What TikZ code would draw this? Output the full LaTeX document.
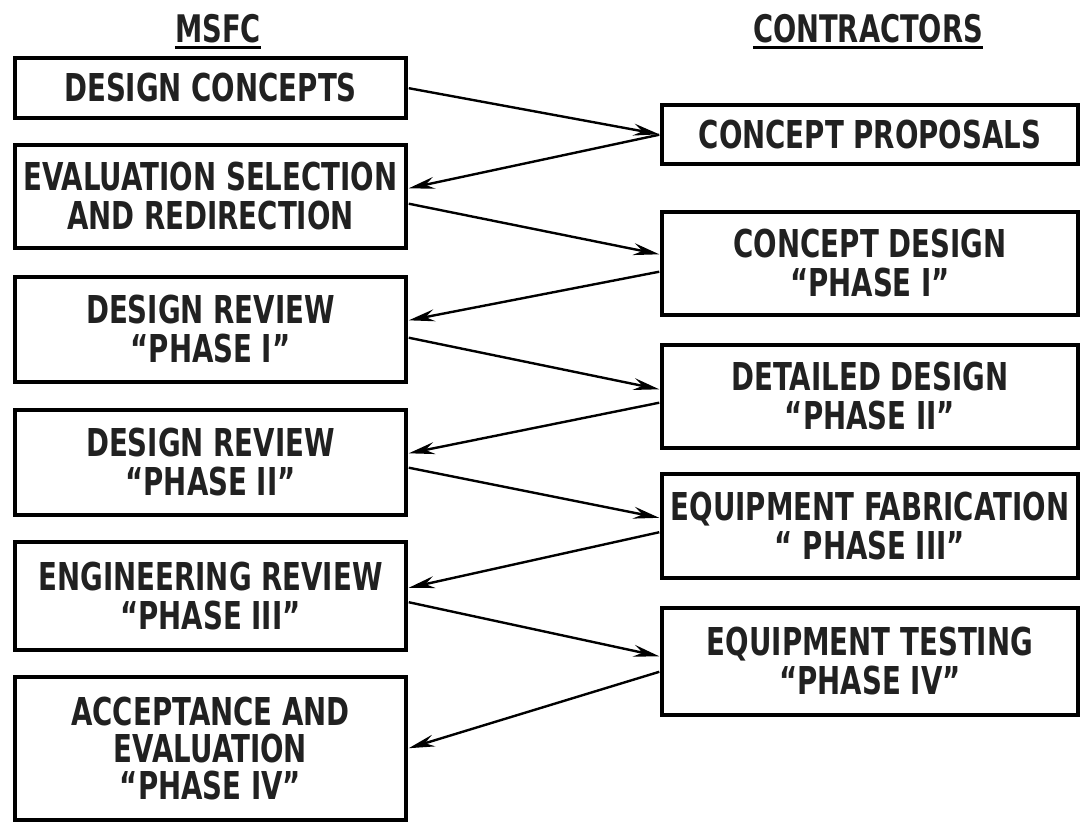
\documentclass[tikz,border=0pt]{standalone}
\usepackage{fontspec}
\setmainfont[FakeStretch=0.72]{DejaVu Sans Bold}
\usepackage{tikz}
\usetikzlibrary{arrows.meta,positioning,calc}
\definecolor{inkgray}{gray}{0.13}
\tikzstyle{headnode}=[inner sep=0pt, text=inkgray, font=\fontsize{38}{40}\selectfont]
\tikzstyle{msfcbox}=[rectangle, draw=black, line width=3.5pt, minimum width=391pt, inner xsep=2pt, align=center, text=inkgray, font=\fontsize{38.4}{39}\selectfont]
\tikzstyle{contrbox}=[msfcbox, minimum width=416pt]
\tikzstyle{flowarrow}=[-{Stealth[length=26pt,width=12pt,inset=9pt]}, line width=2.4pt, shorten >=1pt, shorten <=1pt]

\begin{document}
\begin{tikzpicture}[x=1pt, y=-1pt]
    \useasboundingbox (0,0) rectangle (1085,823);

    % column headings
    \node[headnode] (msfc) at (218,28.5) {MSFC};
    \node[headnode] (contr) at (868,28.5) {CONTRACTORS};
    \draw[line width=2.8pt] ([yshift=-5pt]msfc.base west) -- ([yshift=-5pt]msfc.base east);
    \draw[line width=2.8pt] ([yshift=-5pt]contr.base west) -- ([yshift=-5pt]contr.base east);

    % MSFC side
    \node[msfcbox, minimum height=60pt] (l1) at (210.5,88) {DESIGN CONCEPTS};
    \node[msfcbox, minimum height=103pt] (l2) at (210.5,196.5) {EVALUATION SELECTION\\AND REDIRECTION};
    \node[msfcbox, minimum height=105pt] (l3) at (210.5,329.5) {DESIGN REVIEW\\``PHASE I''};
    \node[msfcbox, minimum height=105pt] (l4) at (210.5,462.5) {DESIGN REVIEW\\``PHASE II''};
    \node[msfcbox, minimum height=108pt] (l5) at (210.5,596) {ENGINEERING REVIEW\\``PHASE III''};
    \node[msfcbox, minimum height=143pt, font=\fontsize{38.4}{37}\selectfont] (l6) at (210.5,748.5) {ACCEPTANCE AND\\EVALUATION\\``PHASE IV''};

    % contractor side
    \node[contrbox, minimum height=59pt] (r1) at (870,134.5) {CONCEPT PROPOSALS};
    \node[contrbox, minimum height=103pt] (r2) at (870,263.5) {CONCEPT DESIGN\\``PHASE I''};
    \node[contrbox, minimum height=103pt] (r3) at (870,396.5) {DETAILED DESIGN\\``PHASE II''};
    \node[contrbox, minimum height=104pt] (r4) at (870,526) {EQUIPMENT FABRICATION\\`` PHASE III''};
    \node[contrbox, minimum height=107pt] (r5) at (870,661.5) {EQUIPMENT TESTING\\``PHASE IV''};

    % hand-offs back and forth
    \draw[flowarrow] (l1.east) -- (r1.west);
    \draw[flowarrow] (r1.west) -- ([yshift=8pt]l2.east);
    \draw[flowarrow] ([yshift=-7pt]l2.east) -- ([yshift=9pt]r2.west);
    \draw[flowarrow] ([yshift=-8pt]r2.west) -- ([yshift=9pt]l3.east);
    \draw[flowarrow] ([yshift=-8pt]l3.east) -- ([yshift=7pt]r3.west);
    \draw[flowarrow] ([yshift=-6pt]r3.west) -- ([yshift=9pt]l4.east);
    \draw[flowarrow] ([yshift=-5pt]l4.east) -- ([yshift=8pt]r4.west);
    \draw[flowarrow] ([yshift=-6pt]r4.west) -- ([yshift=8pt]l5.east);
    \draw[flowarrow] ([yshift=-6pt]l5.east) -- ([yshift=5pt]r5.west);
    \draw[flowarrow] ([yshift=-10pt]r5.west) -- (l6.east);
\end{tikzpicture}
\end{document}
